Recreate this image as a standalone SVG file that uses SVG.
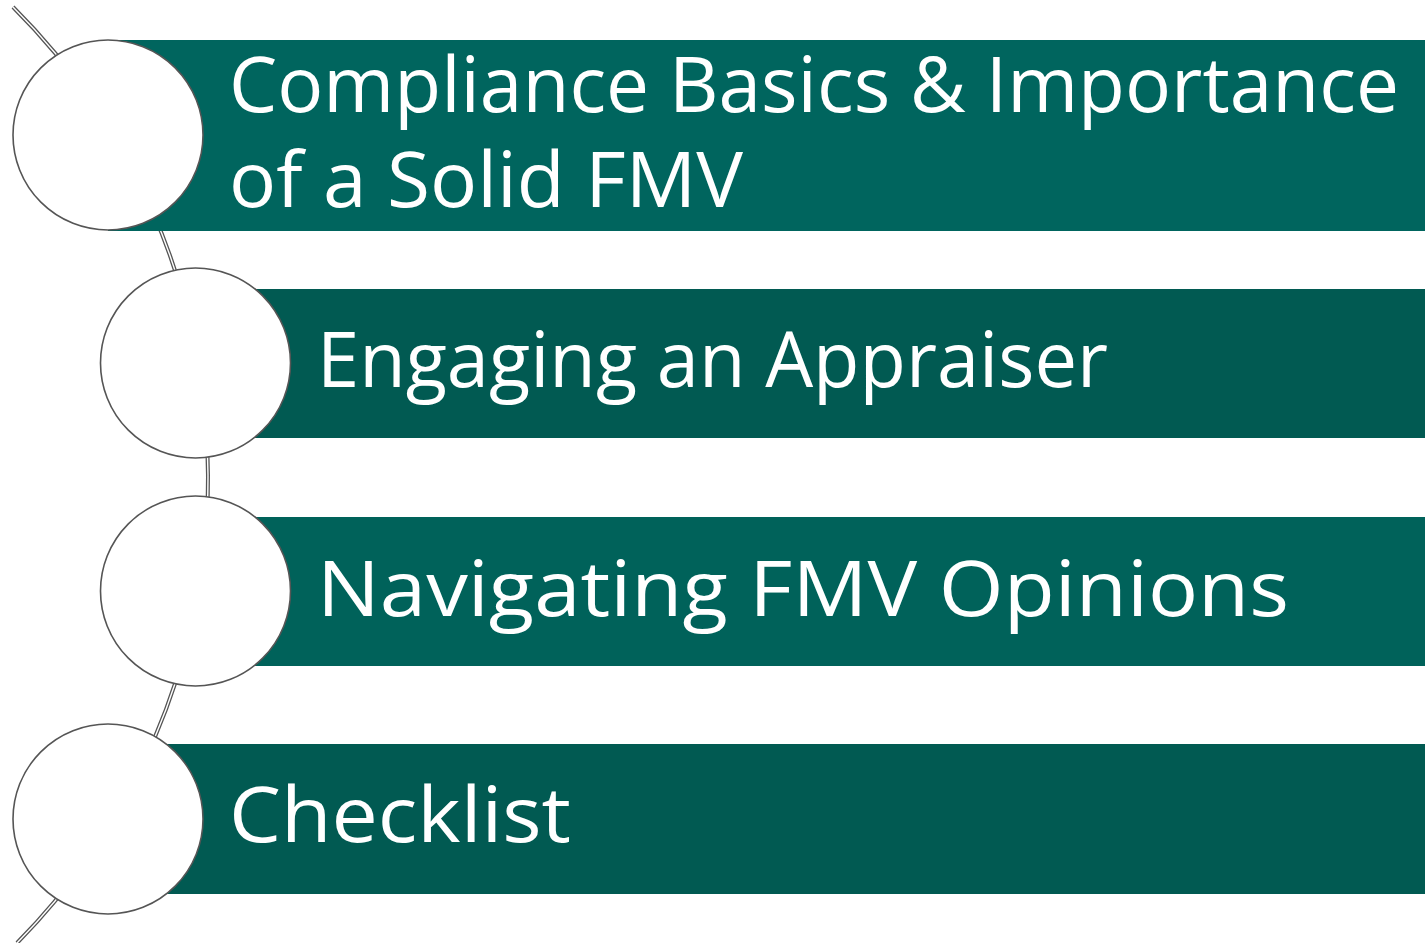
<svg xmlns="http://www.w3.org/2000/svg" width="1425" height="943" viewBox="0 0 1425 943">
  <style>
    .bar { stroke: none; }
    .dot { fill: #ffffff; stroke: #555555; stroke-width: 1.6; }
    .label { font-family: "Open Sans", "Noto Sans", sans-serif; font-size: 77px; fill: #ffffff; }
    .rail-outer { fill: none; stroke: #555555; stroke-width: 4; }
    .rail-inner { fill: none; stroke: #ffffff; stroke-width: 1.4; }
  </style>
  <rect width="1425" height="943" fill="#ffffff"/>

  <!-- curved rail linking the steps -->
  <g id="connectors">
    <path class="rail-outer" d="M 13 7 A 664 664 0 0 1 17 943"/>
    <path class="rail-inner" d="M 13 7 A 664 664 0 0 1 17 943"/>
  </g>

  <g id="step1">
    <rect class="bar" x="108" y="40" width="1317" height="191" fill="#00655E"/>
    <circle class="dot" cx="108" cy="135" r="95"/>
    <text class="label" x="229" y="112" textLength="1170" lengthAdjust="spacingAndGlyphs">Compliance Basics &amp; Importance</text>
    <text class="label" x="229" y="207" textLength="514" lengthAdjust="spacingAndGlyphs">of a Solid FMV</text>
  </g>

  <g id="step2">
    <rect class="bar" x="195" y="289" width="1230" height="149" fill="#015A52"/>
    <circle class="dot" cx="195.5" cy="363" r="95"/>
    <text class="label" x="317" y="387" textLength="791" lengthAdjust="spacingAndGlyphs">Engaging an Appraiser</text>
  </g>

  <g id="step3">
    <rect class="bar" x="195" y="517" width="1230" height="149" fill="#00625A"/>
    <circle class="dot" cx="195.5" cy="591" r="95"/>
    <text class="label" x="317" y="616" textLength="972" lengthAdjust="spacingAndGlyphs">Navigating FMV Opinions</text>
  </g>

  <g id="step4">
    <rect class="bar" x="108" y="744" width="1317" height="150" fill="#015A52"/>
    <circle class="dot" cx="108" cy="819" r="95"/>
    <text class="label" x="229" y="842" textLength="342" lengthAdjust="spacingAndGlyphs">Checklist</text>
  </g>
</svg>
